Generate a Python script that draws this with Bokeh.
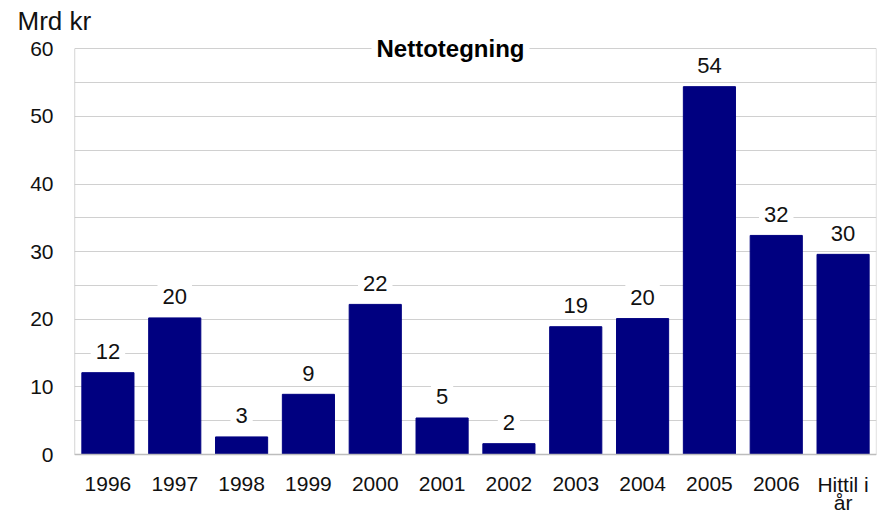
from bokeh.plotting import figure
from bokeh.models import ColumnDataSource, FactorRange, Range1d, FixedTicker, Label
from bokeh.embed import file_html
from bokeh.resources import INLINE
from bokeh.core.properties import value

categories = ["1996", "1997", "1998", "1999", "2000", "2001", "2002", "2003",
              "2004", "2005", "2006", "Hittil i\når"]
values = [12.1, 20.2, 2.6, 8.9, 22.2, 5.4, 1.6, 18.9, 20.1, 54.4, 32.4, 29.6]
labels = ["{:.0f}".format(v) for v in values]
y_ticks = [0, 10, 20, 30, 40, 50, 60]
y_minor = [5, 15, 25, 35, 45, 55]
title_text = "Nettotegning"
unit_text = "Mrd kr"

FONT = "Liberation Sans"
GRID = "#d0d0d0"
AXIS = "#bdbdbd"

line1 = [c.split("\n")[0] for c in categories]
line2 = [c.split("\n")[1] if "\n" in c else "" for c in categories]

src = ColumnDataSource(dict(cat=categories, val=values, lbl=labels,
                            zero=[0] * len(categories), l1=line1, l2=line2))

# Frame: top at 36 px, bottom at canvas bottom; y range chosen so that 0..60
# sits where the reference draws it.
ppu = (454 - 48.3) / 60.0
p = figure(x_range=FactorRange(factors=categories, range_padding=0),
           y_range=Range1d(-(515 - 454) / ppu, 60 + (48.3 - 36) / ppu),
           width=882, height=515,
           min_border_left=74, min_border_top=36, min_border_right=6, min_border_bottom=0,
           output_backend="svg", toolbar_location=None)

p.vbar(x="cat", top="val", width=0.78, color="#000080", source=src)

# value labels
p.text(x="cat", y="val", text="lbl", source=src, y_offset=-21,
       text_align="center", text_baseline="middle",
       text_font=value(FONT), text_font_size="22px", text_color="#111111",
       background_fill_color="white", padding=5)

# category labels under the zero line (two lines)
p.text(x="cat", y="zero", text="l1", source=src, y_offset=29.5,
       text_align="center", text_baseline="alphabetic",
       text_font=value(FONT), text_font_size="21px", text_color="#111111")
p.text(x="cat", y="zero", text="l2", source=src, y_offset=47.5,
       text_align="center", text_baseline="alphabetic",
       text_font=value(FONT), text_font_size="21px", text_color="#111111")

# frame lines: left, right, bottom (only over the 0..60 span)
n = len(categories)
p.segment(x0=[0, n], y0=[y_ticks[0], y_ticks[0]], x1=[0, n], y1=[y_ticks[-1], y_ticks[-1]],
          line_color=[AXIS, GRID], line_width=1.3)
p.segment(x0=[0], y0=[y_ticks[0]], x1=[n], y1=[y_ticks[0]], line_color=AXIS, line_width=1.6)

# Axes
p.xaxis.visible = False
p.yaxis.ticker = FixedTicker(ticks=y_ticks, minor_ticks=y_minor)
p.yaxis.axis_line_color = None
p.yaxis.major_tick_line_color = None
p.yaxis.minor_tick_line_color = None
p.yaxis.major_tick_out = 0
p.yaxis.major_tick_in = 0
p.yaxis.minor_tick_out = 0
p.yaxis.minor_tick_in = 0
p.yaxis.major_label_standoff = 21
p.yaxis.major_label_text_font = FONT
p.yaxis.major_label_text_font_size = "21px"
p.yaxis.major_label_text_color = "#111111"

p.xgrid.grid_line_color = None
p.ygrid.grid_line_color = GRID
p.ygrid.minor_grid_line_color = GRID
p.outline_line_color = None

# unit label as the figure title, top-left
p.title.text = unit_text
p.title.align = "left"
p.title.offset = -57
p.title.standoff = 2
p.title.text_font = FONT
p.title.text_font_style = "normal"
p.title.text_font_size = "26px"
p.title.text_color = "#111111"

# chart title on the top gridline
p.add_layout(Label(x=n / 2, y=y_ticks[-1], x_offset=-25, text=title_text,
                   text_align="center", text_baseline="middle",
                   text_font=FONT, text_font_style="bold", text_font_size="24px",
                   text_color="#000000", background_fill_color="white", padding=5))

open("out.html", "w").write(file_html(p, INLINE))
